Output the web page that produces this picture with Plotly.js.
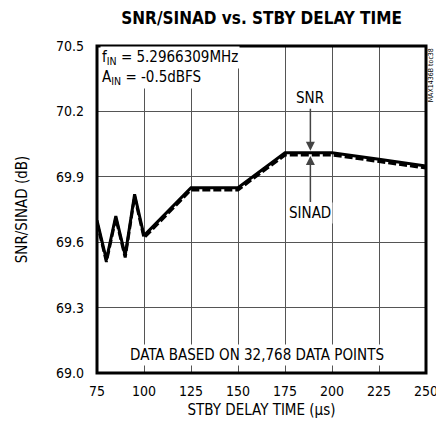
<!DOCTYPE html>
<html>
<head>
<meta charset="utf-8">
<script src="https://cdn.plot.ly/plotly-3.0.1.min.js"></script>
<style>
  html, body { margin: 0; padding: 0; background: #fff; }
  #chart { width: 436px; height: 432px; }
</style>
</head>
<body>
<div id="chart"></div>
<script>
const delayTime = [75, 80, 85, 90, 95, 100, 125, 150, 175, 200, 225, 250];
const snr = [69.70, 69.52, 69.72, 69.54, 69.82, 69.63, 69.85, 69.85, 70.01, 70.01, 69.98, 69.95];
const sinad = [69.69, 69.51, 69.71, 69.53, 69.81, 69.62, 69.84, 69.84, 70.00, 70.00, 69.97, 69.94];
const xTicks = [75, 100, 125, 150, 175, 200, 225, 250];
const yTicks = [69.0, 69.3, 69.6, 69.9, 70.2, 70.5];

const FONT = '"Liberation Sans Narrow", "DejaVu Sans Condensed", "Liberation Sans", Arial, sans-serif';

const traces = [
    {
        x: delayTime,
        y: snr,
        mode: 'lines',
        name: 'SNR',
        line: { color: '#000', width: 3 },
    },
    {
        x: delayTime,
        y: sinad,
        mode: 'lines',
        name: 'SINAD',
        line: { color: '#000', width: 3, dash: '8px,3px' },
    },
];

const layout = {
    width: 436,
    height: 432,
    paper_bgcolor: '#fff',
    plot_bgcolor: '#fff',
    showlegend: false,
    margin: { t: 46, l: 97, r: 10, b: 59 },
    font: { family: FONT, color: '#000', size: 14 },
    title: {
        text: '<b>SNR/SINAD vs. STBY DELAY TIME</b>',
        font: { family: FONT, size: 17, color: '#000' },
        x: 0.6, xanchor: 'center', y: 0.958, yanchor: 'middle',
    },
    xaxis: {
        range: [75, 250],
        tickvals: xTicks,
        ticktext: xTicks.map(String),
        ticks: '',
        ticklabelstandoff: 8,
        ticklabeloverflow: 'allow',
        showgrid: true,
        gridcolor: '#555',
        gridwidth: 1,
        zeroline: false,
        showline: false,
        title: { text: 'STBY DELAY TIME (\u00b5s)', font: { size: 15 }, standoff: 6 },
    },
    yaxis: {
        range: [69.0, 70.5],
        tickvals: yTicks,
        ticktext: yTicks.map(v => v.toFixed(1)),
        ticks: '',
        ticklabelstandoff: 12,
        showgrid: true,
        gridcolor: '#555',
        gridwidth: 1,
        zeroline: false,
        showline: false,
        title: { text: 'SNR/SINAD (dB)', font: { size: 15 }, standoff: 24 },
    },
    shapes: [
        {
            type: 'rect', xref: 'paper', yref: 'paper',
            x0: 0, x1: 1, y0: 0, y1: 1,
            line: { color: '#000', width: 3 },
        },
    ],
    annotations: [
        {
            xref: 'paper', yref: 'paper', x: 0.01, y: 0.965,
            xanchor: 'left', yanchor: 'middle', showarrow: false,
            text: 'f<sub>IN</sub> = 5.2966309MHz',
            bgcolor: '#fff', font: { size: 15 },
        },
        {
            xref: 'paper', yref: 'paper', x: 0.01, y: 0.905,
            xanchor: 'left', yanchor: 'middle', showarrow: false,
            text: 'A<sub>IN</sub> = -0.5dBFS',
            bgcolor: '#fff', font: { size: 15 },
        },
        {
            x: 188.5, y: 70.02, ax: 0, ay: -42,
            showarrow: true, arrowhead: 2, arrowsize: 1.2, arrowwidth: 1.5,
            text: 'SNR', font: { size: 15 }, bgcolor: '#fff',
            yanchor: 'bottom',
        },
        {
            x: 188.5, y: 69.995, ax: 0, ay: 46,
            showarrow: true, arrowhead: 2, arrowsize: 1.2, arrowwidth: 1.5,
            text: 'SINAD', font: { size: 15 }, bgcolor: '#fff',
            yanchor: 'top',
        },
        {
            xref: 'x', yref: 'paper', x: 160, y: 0.055,
            xanchor: 'center', yanchor: 'middle', showarrow: false,
            text: 'DATA BASED ON 32,768 DATA POINTS',
            bgcolor: '#fff', font: { size: 15 },
        },
        {
            xref: 'paper', yref: 'paper', x: 0.998, y: 1.0,
            xanchor: 'left', yanchor: 'top', showarrow: false,
            textangle: -90,
            text: 'MAX1436B toc38',
            font: { size: 7 },
        },
    ],
};

Plotly.newPlot('chart', traces, layout, { staticPlot: true });
</script>
</body>
</html>
